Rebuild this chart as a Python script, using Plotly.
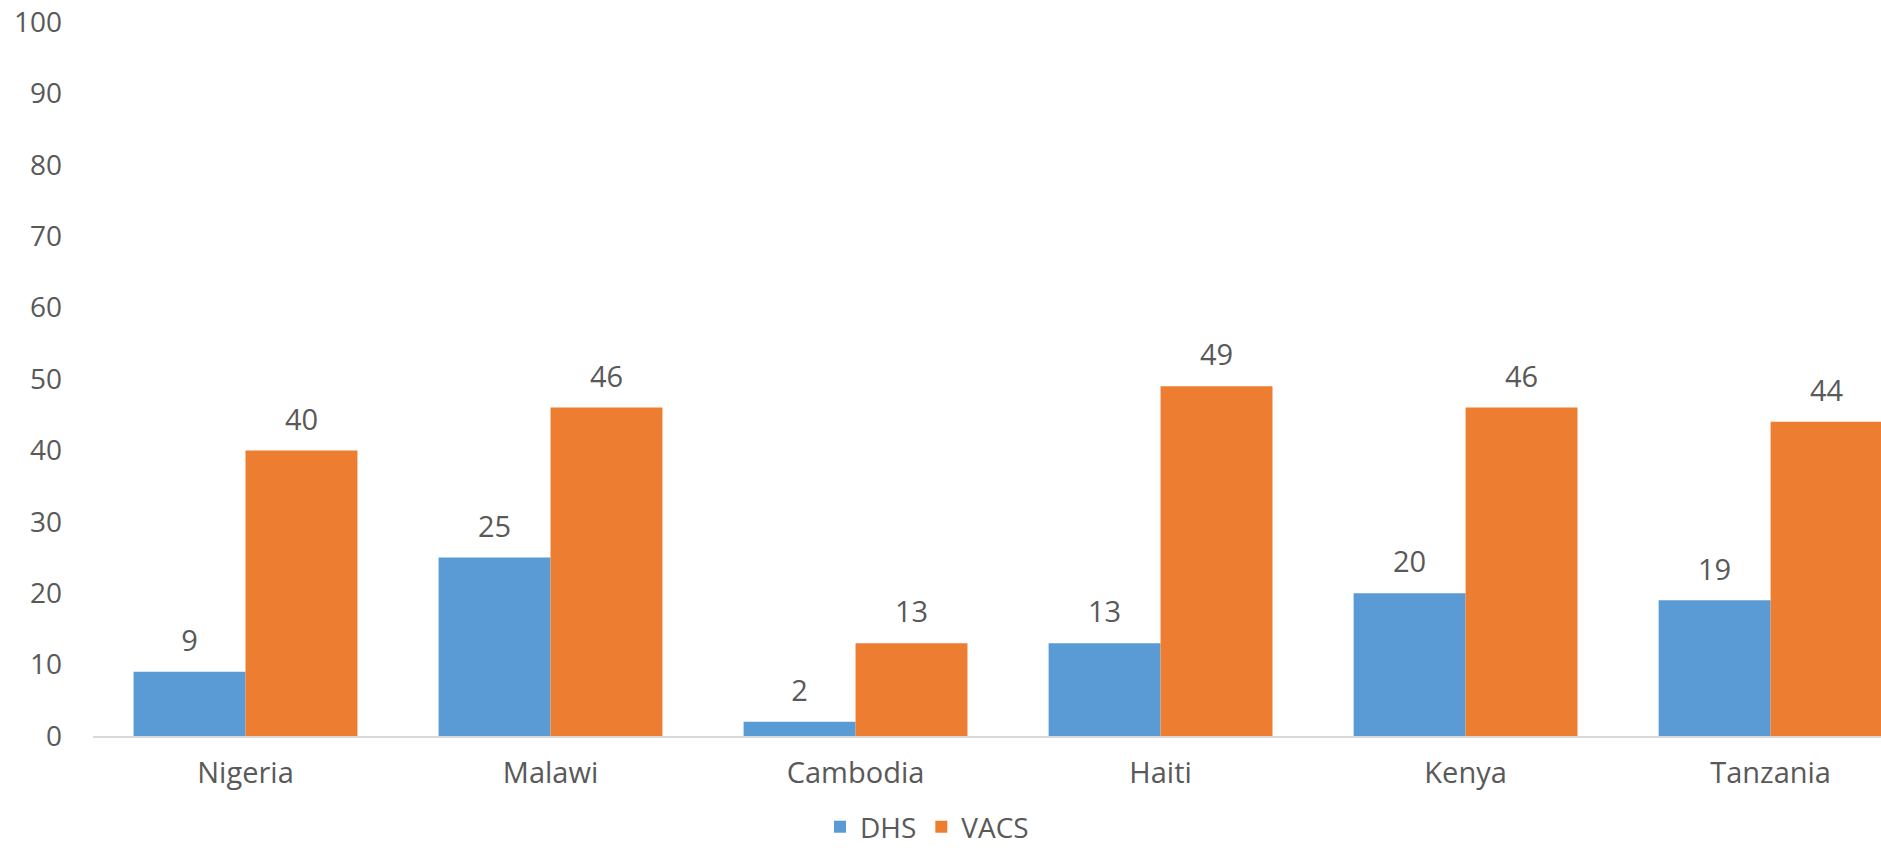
import plotly.graph_objects as go

countries = ["Nigeria", "Malawi", "Cambodia", "Haiti", "Kenya", "Tanzania"]
dhs = [9, 25, 2, 13, 20, 19]
vacs = [40, 46, 13, 49, 46, 44]
y_ticks = [0, 10, 20, 30, 40, 50, 60, 70, 80, 90, 100]

BLUE = "#5B9BD5"
ORANGE = "#ED7D31"
TXT = "#595959"
FONT = "Open Sans"
FS = 29

fig = go.Figure()
fig.add_trace(go.Bar(name="DHS", x=countries, y=dhs, marker=dict(color=BLUE, line=dict(width=0)),
                     offsetgroup="a"))
fig.add_trace(go.Bar(name="VACS", x=countries, y=vacs, marker=dict(color=ORANGE, line=dict(width=0)),
                     offsetgroup="b"))
# data labels
for vals, grp in ((dhs, "a"), (vacs, "b")):
    fig.add_trace(go.Scatter(x=countries, y=vals, mode="markers+text", text=[str(v) for v in vals],
                             textposition="top center", offsetgroup=grp, showlegend=False,
                             marker=dict(size=20, opacity=0), hoverinfo="skip",
                             textfont=dict(family=FONT, size=FS, color=TXT), cliponaxis=False))

fig.update_layout(
    width=1881, height=852,
    margin=dict(l=93, r=0, t=22, b=116, autoexpand=False),
    plot_bgcolor="white", paper_bgcolor="white",
    barmode="group", bargap=0.266, bargroupgap=0,
    scattermode="group", scattergap=0.266,
    font=dict(family=FONT, size=FS, color=TXT),
    showlegend=True,
    legend=dict(orientation="h", x=0.4066, xanchor="left", y=-0.1625, yanchor="bottom",
                font=dict(family=FONT, size=28, color=TXT), traceorder="normal",
                tracegroupgap=0, itemsizing="constant", borderwidth=0),
)
fig.update_xaxes(range=[-0.5, 5.362], showline=True, linecolor="#D9D9D9", linewidth=2,
                 ticks="", showgrid=False, ticklabelstandoff=10, fixedrange=True, automargin=False)
fig.update_yaxes(range=[0, 100], tickvals=y_ticks, showgrid=False, zeroline=False, showline=False,
                 ticks="", ticklabelstandoff=30, automargin=False, tickfont=dict(size=28),
                 ticklabeloverflow="allow", fixedrange=True)

fig.write_html("out.html", config={"displayModeBar": False, "staticPlot": True},
               post_script="document.body.style.margin='0';document.body.style.overflow='hidden';")
